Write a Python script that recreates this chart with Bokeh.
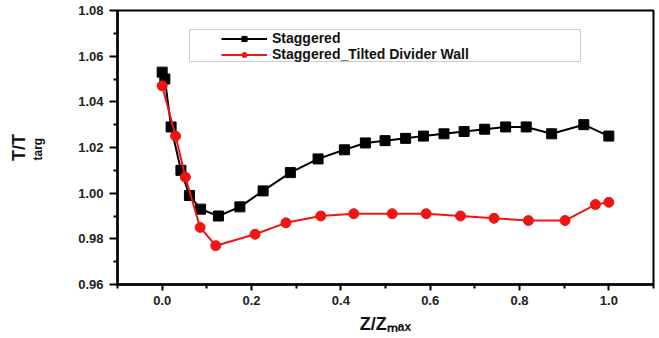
import numpy as np
from bokeh.plotting import figure
from bokeh.models import (FixedTicker, PrintfTickFormatter, Legend,
                          LegendItem, BoxAnnotation, Range1d, LinearAxis)
from bokeh.embed import file_html
from bokeh.resources import INLINE

# ---------------- data ----------------
x_staggered = [0.0, 0.006, 0.020, 0.042, 0.061, 0.086, 0.126, 0.174, 0.226,
               0.287, 0.349, 0.408, 0.455, 0.499, 0.545, 0.585, 0.631, 0.676,
               0.722, 0.769, 0.815, 0.872, 0.944, 1.0]
y_staggered = [1.053, 1.050, 1.029, 1.010, 0.999, 0.993, 0.990, 0.994, 1.001,
               1.009, 1.015, 1.019, 1.022, 1.023, 1.024, 1.025, 1.026, 1.027,
               1.028, 1.029, 1.029, 1.026, 1.030, 1.025]

x_tilted = [0.0, 0.030, 0.052, 0.085, 0.120, 0.208, 0.277, 0.355, 0.429,
            0.515, 0.591, 0.668, 0.743, 0.820, 0.902, 0.970, 1.0]
y_tilted = [1.047, 1.025, 1.007, 0.985, 0.977, 0.982, 0.987, 0.990, 0.991,
            0.991, 0.991, 0.990, 0.989, 0.988, 0.988, 0.995, 0.996]

x_ticks = [0.0, 0.2, 0.4, 0.6, 0.8, 1.0]
x_minor = [-0.1, 0.1, 0.3, 0.5, 0.7, 0.9, 1.1]
y_ticks = [0.96, 0.98, 1.00, 1.02, 1.04, 1.06, 1.08]
y_minor = [0.97, 0.99, 1.01, 1.03, 1.05, 1.07]

series_names = ["Staggered", "Staggered_Tilted Divider Wall"]
x_title = "Z/Z\u2098\u2090\u2093"          # Z/Z with subscript "max"
y_title_main = "T/T"
y_title_sub = "targ"

# ---------------- layout ----------------
W, H = 659, 338
FL, FR, FT, FB = 117, 653, 10, 284
XR = (-0.1, 1.1)
YR = (0.96, 1.08)
FONT = "Liberation Sans"
RED = "#f01414"
NB = "\u00a0"


def sx2x(sx):
    return XR[0] + (sx - FL) * (XR[1] - XR[0]) / (FR - FL)


def sy2y(sy):
    return YR[0] + (FB - sy) * (YR[1] - YR[0]) / (FB - FT)


p = figure(width=W, height=H, x_range=Range1d(*XR), y_range=Range1d(*YR),
           output_backend="svg", toolbar_location=None,
           min_border_left=FL, min_border_right=W - FR,
           min_border_top=FT, min_border_bottom=H - FB)
p.background_fill_color = "white"
p.border_fill_color = "white"
p.grid.visible = False
p.outline_line_color = "black"
p.outline_line_width = 2
p.outline_line_alpha = 1.0

p.xaxis.ticker = FixedTicker(ticks=x_ticks, minor_ticks=x_minor)
p.yaxis.ticker = FixedTicker(ticks=y_ticks, minor_ticks=y_minor)
p.xaxis.formatter = PrintfTickFormatter(format="%.1f")
p.yaxis.formatter = PrintfTickFormatter(format="%.2f")

for ax in (p.xaxis, p.yaxis):
    ax.axis_line_width = 2.5
    ax.axis_line_color = "black"
    ax.major_tick_in = 0
    ax.minor_tick_in = 0
    ax.major_tick_line_width = 2
    ax.minor_tick_line_width = 2
    ax.major_tick_line_color = "black"
    ax.minor_tick_line_color = "black"
    ax.major_label_text_font = FONT
    ax.major_label_text_font_style = "bold"
    ax.major_label_text_font_size = "13px"
    ax.major_label_text_color = "#222222"
    ax.axis_label_text_font = FONT
    ax.axis_label_text_font_style = "bold"
    ax.axis_label_text_color = "#111111"
p.xaxis.major_tick_out = 6
p.xaxis.minor_tick_out = 4
p.yaxis.major_tick_out = 8
p.yaxis.minor_tick_out = 4
p.xaxis.major_label_standoff = 5
p.yaxis.major_label_standoff = 6

# x title (subscript via Unicode subscript letters)
p.xaxis.axis_label = x_title
p.xaxis.axis_label_text_font_size = "18px"
p.xaxis.axis_label_standoff = 6

# y title: subscript on the inner axis, main text on an outer, bare axis
p.yaxis.axis_label = y_title_sub + NB
p.yaxis.axis_label_text_font_size = "12px"
p.yaxis.axis_label_standoff = 30

outer = LinearAxis(ticker=FixedTicker(ticks=[]), axis_line_alpha=0,
                   major_tick_out=0, minor_tick_out=0, major_tick_in=0,
                   minor_tick_in=0, major_label_standoff=0,
                   axis_label=y_title_main, axis_label_standoff=0,
                   axis_label_text_font=FONT,
                   axis_label_text_font_style="bold",
                   axis_label_text_font_size="18px",
                   axis_label_text_color="#111111")
p.add_layout(outer, "left")

for ax in (p.yaxis[0], outer):
    try:
        ax.axis_label_orientation = "vertical"
    except Exception:
        pass

# ---------------- series ----------------
r1l = p.line(x_staggered, y_staggered, line_color="black", line_width=2)
r1m = p.scatter(x_staggered, y_staggered, marker="square", size=10,
                fill_color="black", line_color="black")
r2l = p.line(x_tilted, y_tilted, line_color=RED, line_width=2)
r2m = p.scatter(x_tilted, y_tilted, marker="circle", size=10,
                fill_color=RED, line_color=RED)

# ---------------- legend ----------------
legend = Legend(items=[LegendItem(label=series_names[0], renderers=[r1l, r1m]),
                       LegendItem(label=series_names[1], renderers=[r2l, r2m])],
                location=(221 - FL - 2, FB - 64),
                padding=2, margin=0, spacing=0,
                glyph_width=46, glyph_height=13, label_height=13,
                label_standoff=5,
                label_text_font=FONT, label_text_font_style="bold",
                label_text_font_size="14px", label_text_color="#111111",
                border_line_alpha=0, background_fill_alpha=0)
p.add_layout(legend)

p.add_layout(BoxAnnotation(left=sx2x(189), right=sx2x(580),
                           top=sy2y(29), bottom=sy2y(61),
                           fill_alpha=0, line_color="#555555", line_width=1))

open("out.html", "w").write(file_html(p, INLINE))
